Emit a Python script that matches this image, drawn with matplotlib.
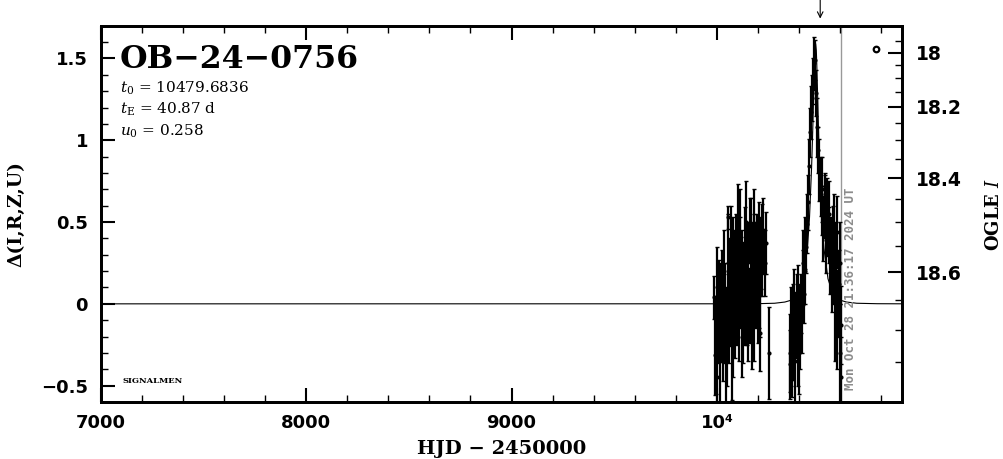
"""
OGLE EWS light curve OB-24-0756
"""

import numpy as np
import matplotlib
matplotlib.use("Agg")
import matplotlib.pyplot as plt
from matplotlib.ticker import MultipleLocator, FuncFormatter
import matplotlib.transforms as mtransforms

# ---- data ----
# season 1 (HJD-2450000, delta, error)
s1_t = [9987, 9990, 9995, 9998, 10002, 10006, 10011, 10016, 10019, 10023,
        10028, 10032, 10035, 10039, 10044, 10047, 10052, 10055, 10060, 10065,
        10068, 10072, 10076, 10080, 10084, 10089, 10092, 10096, 10101, 10106,
        10109, 10112, 10114, 10117, 10120, 10122, 10127, 10132, 10135, 10138,
        10141, 10145, 10150, 10153, 10158, 10162, 10166, 10169, 10172, 10175,
        10178, 10182, 10186, 10190, 10194, 10198, 10202, 10205, 10207, 10210,
        10214, 10219, 10223, 10227, 10233, 10239, 10255]
s1_d = [0.04, -0.31, -0.25, -0.45, 0.1, -0.13, 0.055, -0.35, -0.05, 0.17,
        -0.17, -0.09, 0.2, 0.0, -0.35, -0.2, 0.53, 0.25, 0.02, 0.0,
        0.35, -0.24, 0.33, -0.15, 0.15, 0.03, 0.25, 0.0, 0.49, 0.18,
        -0.05, 0.27, 0.4, 0.13, -0.2, 0.29, -0.04, 0.14, 0.05, 0.34,
        0.5, 0.0, -0.1, 0.2, 0.45, -0.01, 0.35, 0.12, -0.15, 0.27,
        0.45, 0.1, 0.2, 0.05, 0.3, 0.06, 0.15, 0.38, -0.18, 0.1,
        0.31, 0.33, 0.45, 0.31, 0.25, 0.37, -0.3]
s1_e = [0.13, 0.25, 0.3, 0.2, 0.25, 0.23, 0.21, 0.25, 0.3, 0.16,
        0.3, 0.27, 0.25, 0.25, 0.27, 0.3, 0.07, 0.3, 0.38, 0.26,
        0.25, 0.35, 0.2, 0.3, 0.3, 0.36, 0.3, 0.25, 0.24, 0.23,
        0.3, 0.26, 0.3, 0.28, 0.25, 0.16, 0.32, 0.24, 0.3, 0.25,
        0.25, 0.25, 0.25, 0.3, 0.2, 0.23, 0.3, 0.23, 0.25, 0.23,
        0.25, 0.45, 0.3, 0.2, 0.25, 0.3, 0.3, 0.24, 0.23, 0.3,
        0.22, 0.28, 0.2, 0.13, 0.2, 0.19, 0.28]

# season 2
s2_t = [10353, 10357, 10360, 10364, 10370, 10375, 10379, 10382, 10387, 10392,
        10396, 10399, 10403, 10409, 10412, 10416, 10419, 10422, 10427, 10430,
        10434, 10439, 10444, 10448, 10453, 10458, 10463, 10468, 10473, 10478,
        10483, 10488, 10492, 10497, 10504, 10510, 10513, 10517, 10523, 10527,
        10530, 10536, 10543, 10546, 10549, 10556, 10559, 10562, 10566, 10569,
        10575, 10579, 10582, 10585, 10588, 10593, 10597, 10600, 10601, 10603]
s2_d = [-0.3, -0.37, -0.2, -0.46, -0.17, -0.05, -0.35, -0.13, -0.05, -0.32,
        0.0, -0.3, -0.14, 0.0, -0.1, 0.16, 0.25, 0.06, 0.37, 0.2,
        0.35, 0.49, 0.62, 0.84, 1.05, 1.17, 1.26, 1.36, 1.47, 1.49,
        1.29, 1.08, 0.94, 0.82, 0.72, 0.57, 0.7, 0.46, 0.67, 0.6,
        0.39, 0.53, 0.42, 0.55, 0.26, 0.39, 0.2, 0.19, 0.3, 0.45,
        0.05, 0.2, 0.44, -0.1, 0.0, 0.12, 0.25, -0.3, -0.45, -0.13]
s2_e = [0.24, 0.21, 0.3, 0.11, 0.29, 0.26, 0.25, 0.2, 0.23, 0.18,
        0.24, 0.25, 0.26, 0.18, 0.2, 0.17, 0.2, 0.18, 0.16, 0.2,
        0.16, 0.18, 0.17, 0.17, 0.15, 0.16, 0.14, 0.14, 0.16, 0.12,
        0.14, 0.18, 0.14, 0.19, 0.18, 0.15, 0.2, 0.2, 0.12, 0.2,
        0.2, 0.24, 0.17, 0.2, 0.2, 0.14, 0.25, 0.18, 0.3, 0.22,
        0.4, 0.3, 0.22, 0.3, 0.2, 0.21, 0.25, 0.3, 0.25, 0.24]

# model curve
model_t = [7000, 10100, 10200, 10280, 10330, 10360, 10400, 10420, 10440, 10450,
           10460, 10465, 10470, 10475, 10477, 10480, 10483, 10485, 10490, 10495,
           10500, 10510, 10520, 10540, 10560, 10600, 10630, 10680, 10780, 10900]
model_d = [0.0, 0.0003, 0.0011, 0.0036, 0.011, 0.022, 0.074, 0.153, 0.344, 0.53,
           0.83, 1.03, 1.27, 1.49, 1.55, 1.59, 1.55, 1.48, 1.25, 1.0,
           0.81, 0.52, 0.34, 0.153, 0.074, 0.022, 0.011, 0.0036, 0.0008, 0.0002]

marker_t = [10775]
marker_d = [1.56]

now_t = 10603
arrow_t = 10502

event_name = "OB\u221224\u22120756"
params = [r"$t_0$ = 10479.6836", r"$t_{\rm E}$ = 40.87 d", r"$u_0$ = 0.258"]
stamp = "Mon Oct 28 21:36:17 2024 UT"

x_ticks = [7000, 8000, 9000, 10000]
x_tick_labels = ["7000", "8000", "9000", "10\u2074"]
y_ticks = [-0.5, 0, 0.5, 1, 1.5]
mag_major = [18.0, 18.2, 18.4, 18.6]
mag_minor = [17.95, 18.05, 18.1, 18.15, 18.25, 18.3, 18.35,
             18.45, 18.5, 18.55, 18.65, 18.7, 18.75]

# calibration of right axis (OGLE I -> delta), from tick positions
MAG_A = 2.574
MAG_B = 1.0396


def mag_to_delta(m):
    return MAG_A - MAG_B * 10 ** (0.6 * (np.asarray(m, dtype=float) - 18))


if __name__ == "__main__":
    plt.rcParams['font.family'] = 'DejaVu Sans'
    plt.rcParams['mathtext.fontset'] = 'dejavuserif'

    fig = plt.figure(figsize=(10.04, 4.59), dpi=100)
    ax = fig.add_axes([0.1001, 0.1242, 0.7983, 0.8197])

    ax.plot(model_t, model_d, color='black', lw=0.8, zorder=2)
    for tt, dd, ee in ((s1_t, s1_d, s1_e), (s2_t, s2_d, s2_e)):
        ax.errorbar(tt, dd, yerr=ee, fmt='o', ms=2, color='black',
                    elinewidth=1.6, capsize=1.5, capthick=1.0, zorder=3)
    ax.plot(marker_t, marker_d, 'o', ms=4, mfc='white', mec='black', mew=1.6)

    ax.axvline(now_t, color='#999999', lw=1.0, zorder=1)
    tr = mtransforms.blended_transform_factory(ax.transData, ax.transAxes)
    ax.annotate(stamp, xy=(now_t, 0.032), xycoords=tr, xytext=(2.5, 0),
                textcoords='offset points', rotation=90, ha='left', va='bottom',
                color='#8c8c8c', fontsize=9, fontweight='bold',
                fontfamily='DejaVu Sans Mono')

    ax.annotate('', xy=(arrow_t, 1.019), xycoords=tr, xytext=(arrow_t, 1.075),
                textcoords=tr, annotation_clip=False,
                arrowprops=dict(arrowstyle='->', lw=0.8, color='black',
                                shrinkA=0, shrinkB=0))

    ax.set_xlim(7000, 10900)
    ax.set_ylim(-0.6, 1.7)

    ax.set_xticks(x_ticks)
    ax.set_xticklabels(x_tick_labels)
    ax.xaxis.set_minor_locator(MultipleLocator(200))
    ax.set_yticks(y_ticks)
    ax.yaxis.set_major_formatter(FuncFormatter(lambda v, p: ('%g' % v).replace('-', '\u2212')))
    ax.yaxis.set_minor_locator(MultipleLocator(0.1))

    ax.tick_params(which='both', direction='in', top=True, right=False,
                   labelsize=13)
    ax.tick_params(which='major', length=10, width=1.5, pad=9)
    ax.tick_params(which='minor', length=5, width=1.0)
    for lab in ax.get_xticklabels() + ax.get_yticklabels():
        lab.set_fontweight('bold')
    for sp in ax.spines.values():
        sp.set_linewidth(2)

    # right axis: OGLE I magnitudes
    ax2 = ax.twinx()
    ax2.set_ylim(ax.get_ylim())
    ax2.set_yticks(mag_to_delta(mag_major))
    ax2.set_yticklabels(['%g' % m for m in mag_major])
    ax2.set_yticks(mag_to_delta(mag_minor), minor=True)
    ax2.tick_params(which='both', direction='in', labelsize=13.5)
    ax2.tick_params(which='major', length=10, width=1.5, pad=10)
    ax2.tick_params(which='minor', length=5, width=1.0)
    for lab in ax2.get_yticklabels():
        lab.set_fontweight('bold')
    for sp in ax2.spines.values():
        sp.set_linewidth(2)
    fig.text(994 / 1004, 1 - 214 / 459, r"OGLE $\mathit{I}$", rotation=90,
             ha='center', va='center', fontfamily='DejaVu Serif',
             fontweight='bold', fontsize=13)

    ax.set_xlabel("HJD \u2212 2450000", fontfamily='DejaVu Serif',
                  fontweight='bold', fontsize=14)
    ax.xaxis.set_label_coords(0.5, -0.102)
    ax.set_ylabel("\u0394(I,R,Z,U)", fontfamily='DejaVu Serif',
                  fontweight='bold', fontsize=13.5)
    ax.yaxis.set_label_coords(-0.094, 0.5)

    ax.text(0.024, 0.888, event_name, transform=ax.transAxes, va='baseline',
            fontfamily='DejaVu Serif', fontweight='bold', fontsize=22.8)
    for txt, yy in zip(params, [0.822, 0.766, 0.707]):
        ax.text(0.0243, yy, txt, transform=ax.transAxes, va='baseline',
                fontfamily='DejaVu Serif', fontsize=11)
    ax.text(0.027, 0.05, "SIGNALMEN", transform=ax.transAxes, va='baseline',
            fontfamily='DejaVu Serif', fontweight='bold', fontsize=6)

    fig.savefig("out.png", dpi=100)
